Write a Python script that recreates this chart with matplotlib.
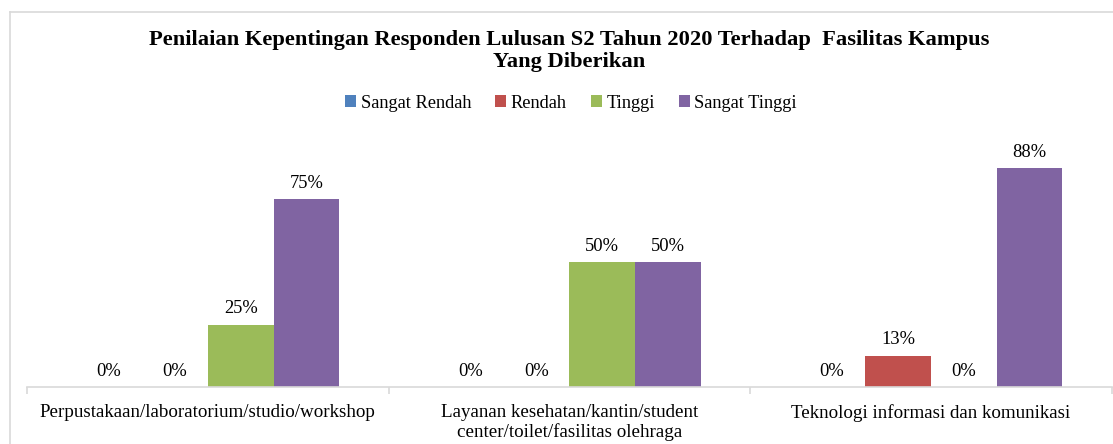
import math
import matplotlib.pyplot as plt
from matplotlib.lines import Line2D
from matplotlib.patches import Patch

plt.rcParams['font.family'] = ['Liberation Serif', 'DejaVu Serif']

categories = ['Perpustakaan/laboratorium/studio/workshop',
              'Layanan kesehatan/kantin/student\ncenter/toilet/fasilitas olehraga',
              'Teknologi informasi dan komunikasi']
series = ['Sangat Rendah', 'Rendah', 'Tinggi', 'Sangat Tinggi']
sangat_rendah = [0, 0, 0]
rendah = [0, 0, 12.5]
tinggi = [25, 50, 0]
sangat_tinggi = [75, 50, 87.5]
colors = ['#4F81BD', '#C0504D', '#9BBB59', '#8064A2']

W, H = 1113, 444
fig = plt.figure(figsize=(W / 100, H / 100), dpi=100)

# light chart-area border (picture is cropped on the right and bottom)
fig.add_artist(Line2D([10 / W, 10 / W], [0, 1 - 12 / H], color='#D9D9D9', lw=1.2, transform=fig.transFigure))
fig.add_artist(Line2D([10 / W, 1], [1 - 12 / H, 1 - 12 / H], color='#D9D9D9', lw=1.2, transform=fig.transFigure))

ax = fig.add_axes([27 / W, (H - 387) / H, 1084.5 / W, 250 / H])
w = 0.182
data = [sangat_rendah, rendah, tinggi, sangat_tinggi]
for i, vals in enumerate(data):
    xs = [c + 0.5 + (i - 1.5) * w for c in range(len(categories))]
    ax.bar(xs, vals, width=w, color=colors[i], label=series[i])
    for x, v in zip(xs, vals):
        ax.text(x, v + 6.4, '%d%%' % math.floor(v + 0.5), ha='center', va='center', fontsize=13.3)

ax.set_xlim(0, 3)
ax.set_ylim(0, 100)
for s in ['top', 'right', 'left']:
    ax.spines[s].set_visible(False)
ax.spines['bottom'].set_color('#D9D9D9')
ax.spines['bottom'].set_linewidth(1.2)
ax.set_yticks([])
ax.set_xticks([0, 1, 2, 3])
ax.set_xticklabels([])
ax.tick_params(axis='x', which='major', length=5, color='#D9D9D9', width=1.2)
ax.set_xticks([0.5, 1.5, 2.5], minor=True)
ax.set_xticklabels(categories, minor=True, fontsize=13.7, linespacing=1.15)
ax.tick_params(axis='x', which='minor', length=0, pad=12)

fig.text(569 / W, 1 - 51 / H,
         'Penilaian Kepentingan Responden Lulusan S2 Tahun 2020 Terhadap  Fasilitas Kampus\nYang Diberikan',
         ha='center', va='center', fontsize=16.2, fontweight='bold', linespacing=1.15)

handles = [Patch(facecolor=c, label=s) for c, s in zip(colors, series)]
fig.legend(handles=handles, loc='center', bbox_to_anchor=(571 / W, 1 - 103 / H), ncol=4,
           frameon=False, fontsize=13.2, handlelength=0.6, handleheight=0.6,
           handletextpad=0.25, columnspacing=1.3)

fig.savefig('out.png', dpi=100)
